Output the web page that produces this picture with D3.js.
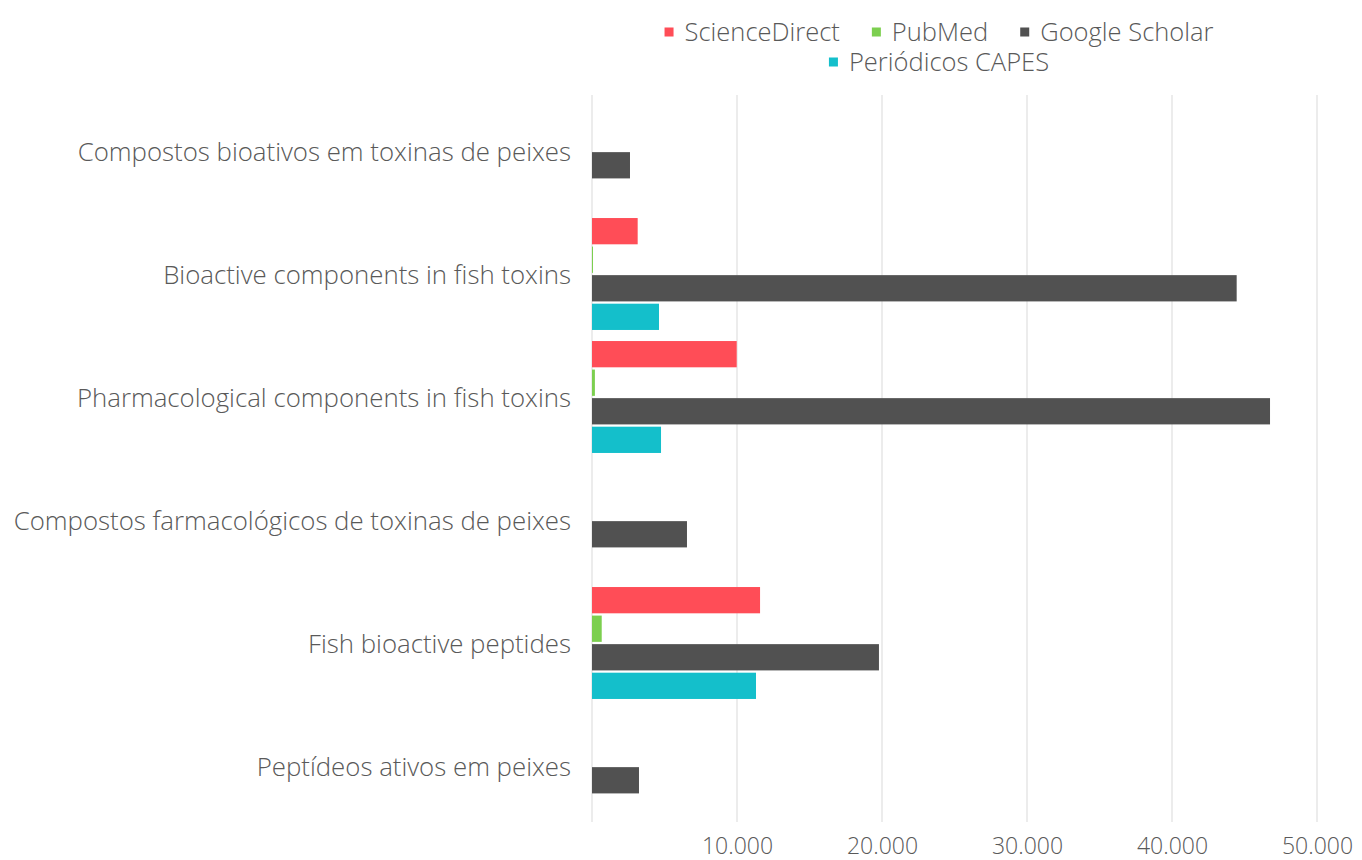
<!DOCTYPE html>
<html>
<head>
<meta charset="utf-8">
<script src="https://cdn.jsdelivr.net/npm/d3@7"></script>
<style>
  html, body { margin: 0; padding: 0; background: #ffffff; }
  svg { display: block; font-family: "Open Sans", "Noto Sans", sans-serif; }
</style>
</head>
<body>
<svg id="chart" width="1362" height="860"></svg>
<script>
// Search terms (rows, top to bottom)
const categories = [
  "Compostos bioativos em toxinas de peixes",
  "Bioactive components in fish toxins",
  "Pharmacological components in fish toxins",
  "Compostos farmacológicos de toxinas de peixes",
  "Fish bioactive peptides",
  "Peptídeos ativos em peixes"
];

// Databases searched
const seriesNames = ["ScienceDirect", "PubMed", "Google Scholar", "Periódicos CAPES"];
const seriesColors = ["#ff4d57", "#7ccf4f", "#515151", "#14bfcb"];

// Number of results per database, one value per search term
const scienceDirect = [0, 3150, 9980, 0, 11590, 0];
const pubMed        = [0, 50, 200, 0, 670, 0];
const googleScholar = [2620, 44460, 46760, 6550, 19790, 3240];
const capes         = [0, 4620, 4760, 0, 11310, 0];

const tickValues = [10000, 20000, 30000, 40000, 50000];

const seriesValues = [scienceDirect, pubMed, googleScholar, capes];

const svg = d3.select("#chart");
const fmt = v => d3.format(",")(v).replace(/,/g, ".");

const x = d3.scaleLinear().domain([0, 50000]).range([592, 1317]);

const y0 = d3.scaleBand()
  .domain(categories)
  .range([89.5, 827.5])
  .paddingInner(0.09)
  .paddingOuter(0.045);

const y1 = d3.scaleBand()
  .domain(seriesNames)
  .range([0, y0.bandwidth()])
  .paddingInner(0.08);

const color = d3.scaleOrdinal().domain(seriesNames).range(seriesColors);

// Vertical gridlines, including the zero baseline
const gridTop = 95, gridBottom = 822;
svg.append("g")
  .selectAll("line")
  .data([0, ...tickValues])
  .join("line")
  .attr("x1", d => x(d)).attr("x2", d => x(d))
  .attr("y1", gridTop).attr("y2", gridBottom)
  .attr("stroke", "#d9d9d9")
  .attr("stroke-width", 1);

// Bottom axis labels
const xAxis = d3.axisBottom(x)
  .tickValues(tickValues)
  .tickFormat(fmt)
  .tickSize(0)
  .tickPadding(0);

const axisG = svg.append("g")
  .attr("transform", `translate(0, 836)`)
  .call(xAxis);
axisG.select(".domain").remove();
axisG.selectAll("text")
  .attr("dy", "0.8em")
  .style("font-family", "'Open Sans', sans-serif")
  .style("font-weight", 300)
  .style("font-size", "23px")
  .attr("fill", "#595959");

// Category labels on the left
const yAxis = d3.axisLeft(y0).tickSize(0).tickPadding(21);
const yAxisG = svg.append("g")
  .attr("transform", `translate(592, 2)`)
  .call(yAxis);
yAxisG.select(".domain").remove();
yAxisG.selectAll("text")
  .style("font-family", "'Open Sans', sans-serif")
  .style("font-weight", 300)
  .style("font-size", "25.8px")
  .attr("fill", "#595959");

// Grouped bars
const rows = categories.map((c, i) => ({
  category: c,
  values: seriesNames.map((s, j) => ({ series: s, value: seriesValues[j][i] }))
}));

svg.append("g")
  .selectAll("g")
  .data(rows)
  .join("g")
  .attr("transform", d => `translate(0, ${y0(d.category)})`)
  .selectAll("rect")
  .data(d => d.values.filter(v => v.value > 0))
  .join("rect")
  .attr("x", x(0))
  .attr("y", d => y1(d.series))
  .attr("width", d => Math.max(1, x(d.value) - x(0)))
  .attr("height", y1.bandwidth())
  .attr("fill", d => color(d.series));

// Legend (two centred rows)
const legendRows = [
  { items: seriesNames.slice(0, 3), y: 32 },
  { items: seriesNames.slice(3), y: 62 }
];
const legendCenter = 939;
legendRows.forEach(row => {
  const g = svg.append("g");
  let cursor = 0;
  row.items.forEach((name, k) => {
    const item = g.append("g");
    item.append("rect")
      .attr("x", 0).attr("y", -4.5)
      .attr("width", 9).attr("height", 9)
      .attr("fill", color(name));
    const t = item.append("text")
      .attr("x", 20).attr("y", 0)
      .attr("dy", "0.35em")
      .style("font-family", "'Open Sans', sans-serif")
      .style("font-weight", 300)
      .style("font-size", "25.5px")
      .attr("fill", "#595959")
      .text(name);
    const w = 20 + t.node().getComputedTextLength();
    item.attr("transform", `translate(${cursor}, ${row.y})`);
    cursor += w + (k < row.items.length - 1 ? 32 : 0);
  });
  g.attr("transform", `translate(${legendCenter - cursor / 2}, 0)`);
});
</script>
</body>
</html>
